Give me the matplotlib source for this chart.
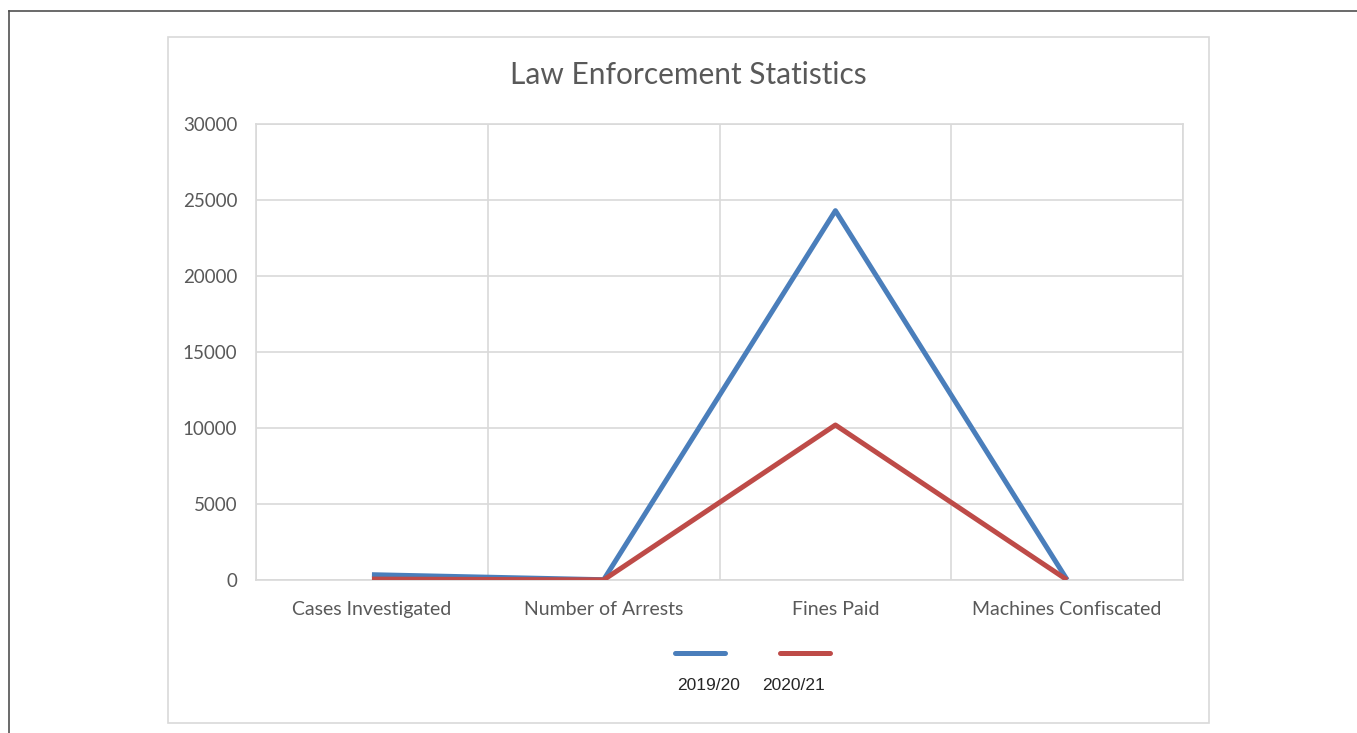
import matplotlib
matplotlib.use("Agg")
import matplotlib.pyplot as plt
from matplotlib.lines import Line2D
from matplotlib.patches import Rectangle

categories = ["Cases Investigated", "Number of Arrests", "Fines Paid", "Machines Confiscated"]
series_names = ["2019/20", "2020/21"]
values_1920 = [350, 20, 24300, 10]
values_2021 = [60, 10, 10200, 5]
y_ticks = [0, 5000, 10000, 15000, 20000, 25000, 30000]

colors = ["#4A7EBB", "#BE4B48"]
grid_col = "#D9D9D9"
text_col = "#595959"

plt.rcParams["font.family"] = ["Lato", "DejaVu Sans"]

fig = plt.figure(figsize=(13.57, 7.33), dpi=100)

# outer page frame (only left and top edges are visible)
fig.add_artist(Line2D([0.0066, 0.0066], [0.0, 0.985], color="#505050", lw=1.2))
fig.add_artist(Line2D([0.0066, 1.0], [0.985, 0.985], color="#505050", lw=1.2))

# chart box
fig.add_artist(Rectangle((0.1238, 0.0136), 0.7671, 0.9359, fill=False,
                         edgecolor=grid_col, lw=1.2))

ax = fig.add_axes([0.1887, 0.2087, 0.6831, 0.6221])
x = list(range(len(categories)))
ax.plot(x, values_1920, color=colors[0], lw=3.6, solid_capstyle="butt", zorder=3)
ax.plot(x, values_2021, color=colors[1], lw=3.6, solid_capstyle="butt", zorder=3)

ax.set_xlim(-0.5, len(categories) - 0.5)
ax.set_ylim(0, 30000)
ax.set_yticks(y_ticks)
ax.set_yticklabels([str(v) for v in y_ticks])
ax.set_xticks(x)
ax.set_xticklabels(categories)
ax.set_xticks([i - 0.5 for i in range(len(categories) + 1)], minor=True)
ax.grid(True, which="major", axis="y", color=grid_col, lw=1.2)
ax.grid(True, which="minor", axis="x", color=grid_col, lw=1.2)
ax.tick_params(axis="both", which="both", length=0, colors=text_col)
ax.tick_params(axis="y", pad=13.5, labelsize=13.5)
ax.tick_params(axis="x", pad=15, labelsize=14)
for s in ax.spines.values():
    s.set_color(grid_col)
    s.set_linewidth(1.2)
ax.set_axisbelow(True)

fig.text(0.507, 0.897, "Law Enforcement Statistics", ha="center", va="center",
         fontsize=21.5, color=text_col)

# legend: line swatches above the labels
swatch_x = [(0.4975, 0.5343), (0.5748, 0.6116)]
label_x = [0.5225, 0.5851]
for name, col, (x0, x1), lx in zip(series_names, colors, swatch_x, label_x):
    fig.add_artist(Line2D([x0, x1], [0.109, 0.109], color=col, lw=3.6,
                          solid_capstyle="round"))
    fig.text(lx, 0.0645, name, ha="center", va="center", fontsize=12.5,
             color="#262626", family=["Liberation Sans", "DejaVu Sans"])

fig.savefig("out.png", dpi=100)
